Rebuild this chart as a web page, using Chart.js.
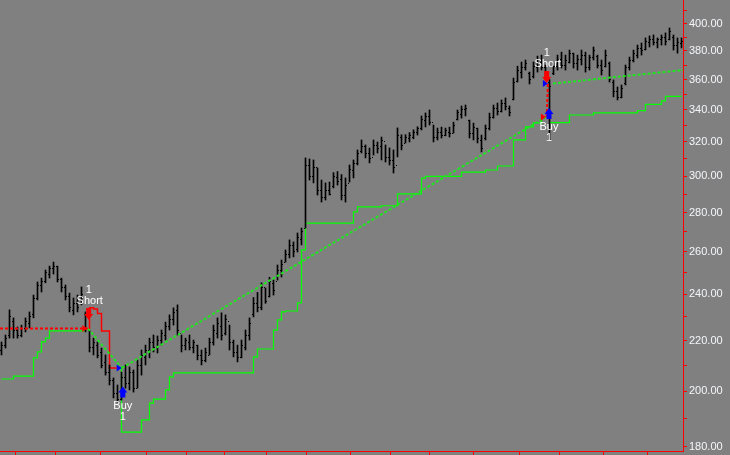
<!DOCTYPE html>
<html>
<head>
<meta charset="utf-8">
<script src="https://cdn.jsdelivr.net/npm/chart.js@4"></script>
<style>
html,body{margin:0;padding:0;background:#808080;overflow:hidden;}
canvas{display:block;}
</style>
</head>
<body>
<canvas id="c" width="730" height="455"></canvas>
<script>
// ---- price bars (one entry per bar index) ----
const highP = [219.4,222.3,233.1,229.6,225.7,226.5,229.6,232.2,239.7,245.7,247.5,251.3,253.2,255.1,253.2,247.5,244.3,240.6,238.4,239.7,
243.4,232.2,224.4,221.0,219.4,216.9,214.1,210.1,205.0,202.3,207.3,210.1,209.3,208.1,212.1,216.1,218.1,221.0,222.3,221.9,
224.4,227.8,230.9,234.0,235.3,222.3,221.0,222.3,220.2,218.1,216.1,216.9,221.0,226.5,229.6,231.8,230.9,226.5,220.2,218.1,
220.2,224.4,229.6,238.6,240.9,245.3,242.9,247.9,246.6,253.7,256.1,261.0,266.0,265.0,269.5,272.0,310.5,309.9,309.3,304.7,
297.8,296.2,296.7,302.0,302.6,300.9,299.0,306.4,309.3,315.2,321.2,318.2,316.4,321.2,320.0,323.0,318.2,316.4,315.2,328.6,
324.4,324.4,325.7,327.4,329.3,336.1,338.0,339.9,330.4,328.5,329.1,328.5,329.1,332.2,339.9,342.5,343.1,333.5,331.6,328.5,
324.2,330.4,337.9,343.1,344.4,346.4,347.7,342.5,361.0,369.2,372.1,373.5,365.1,372.1,376.3,377.0,370.0,360.0,371.4,377.0,
379.1,377.0,380.6,378.4,377.0,380.6,379.1,377.0,382.8,377.0,373.5,380.6,372.1,359.7,355.0,356.3,370.0,375.6,380.6,384.2,
385.7,389.4,390.9,391.6,389.4,391.6,393.1,396.8,391.6,389.4,389.4];
const lowP = [214.1,216.9,221.0,221.0,221.0,221.5,223.6,225.3,229.6,237.5,241.1,245.3,247.5,249.4,245.7,241.1,237.5,232.2,230.9,232.2,
235.3,223.6,215.3,214.1,212.9,208.9,206.1,202.3,197.4,195.9,196.6,201.1,200.4,199.6,201.1,206.1,210.1,212.9,215.3,214.9,
218.1,220.2,224.4,226.5,222.3,215.3,216.1,216.1,214.9,212.1,210.1,211.3,214.1,218.1,221.0,220.2,222.3,216.1,213.3,211.3,
212.9,216.1,220.2,230.0,232.2,233.1,236.0,238.8,239.7,246.6,248.0,255.1,257.1,257.6,260.0,263.5,272.0,297.8,296.2,289.5,
285.7,286.8,289.5,293.4,295.0,286.8,285.7,296.7,299.0,306.4,313.4,310.5,307.6,312.2,313.4,309.3,308.1,306.4,301.8,311.1,
315.2,319.4,320.0,321.9,324.2,327.3,329.2,330.4,320.0,321.2,322.4,323.7,323.0,325.4,333.5,334.7,336.1,322.4,321.2,319.4,
314.0,321.2,327.3,334.7,336.7,338.6,339.9,336.1,346.4,358.3,361.0,366.5,357.0,361.0,365.1,366.5,359.7,321.2,363.3,366.5,
367.9,366.5,371.4,367.9,366.5,370.0,365.1,366.5,373.5,367.9,363.1,368.6,358.3,348.4,346.4,347.7,356.3,366.5,372.1,374.9,
377.0,380.6,382.8,384.2,382.1,384.2,384.2,387.9,380.6,378.4,382.1];
const openP = [216,218,222,228,224,222,225,227,231,238,244,246,249,252,253,247,243,239,233,236,
236,231,224,217,218,215,211,207,204,199,197,205,203,207,201,210,213,216,219,217,
220,222,226,229,233,223,218,219,217,218,214,212,214,219,223,226,223,228,219,215,
213,217,222,231,236,234,243,239,245,246,251,255,259,263,261,266,272,306,300,305,
292,288,292,294,299,298,289,296,303,307,314,317,313,311,318,317,320,311,309,306,
323,319,322,323,326,328,333,336,332,323,326,324,326,325,334,337,340,333,325,328,
321,322,328,335,341,339,344,341,347,359,365,368,364,362,368,372,368,358,364,369,
374,370,372,378,371,374,377,368,375,376,370,369,371,358,352,348,357,368,373,377,
382,381,386,388,386,388,390,388,390,384,385];
const closeP = [218,221,230,224,222,225,228,230,238,244,246,250,252,253,247,243,239,234,236,234,
240,225,217,219,214,210,207,204,199,197,205,203,207,201,210,214,216,219,217,220,
223,226,229,232,224,218,220,217,219,214,212,215,219,224,227,222,229,219,215,213,
218,222,227,236,234,243,237,246,242,251,254,259,263,260,267,270,306,300,305,292,
288,292,290,300,297,289,295,304,307,313,317,313,310,318,316,321,311,309,305,324,
318,323,324,326,328,334,336,332,323,326,324,327,325,330,338,340,341,325,329,322,
316,328,335,341,339,344,342,338,358,366,368,371,360,369,372,368,362,355,369,374,
370,373,378,371,374,377,368,375,380,370,366,377,360,352,348,354,368,373,378,382,
380,387,388,386,388,390,387,394,384,386,387];

// ---- trailing stops ----
const longStop = [204.6,204.6,204.6,205.7,205.7,205.7,205.7,205.7,212.9,215.3,219.4,221.0,
224.0,224.0,224.0,224.0,224.0,224.0,224.0,224.0,224.0,224.0,
null,null,null,null,null,null,null,
208.9,185.1,185.1,185.1,185.1,185.1,189.4,189.4,195.5,197.0,197.0,197.0,200.4,205.4,
207.0,207.0,207.0,207.0,207.0,207.0,207.0,207.0,207.0,207.0,207.0,207.0,207.0,207.0,207.0,207.0,207.0,207.0,207.0,207.0,
213.3,216.5,216.5,216.5,216.5,224.4,228.7,232.2,232.6,232.6,232.6,236.2,261.0,
274.6,274.6,274.6,274.6,274.6,274.6,274.6,274.6,274.6,274.6,274.6,274.6,
280.4,283.1,283.1,283.1,283.1,283.1,283.1,283.7,283.7,283.7,283.7,
290.1,290.1,290.1,290.1,290.1,290.1,298.9,
299.9,299.9,299.9,299.9,299.9,299.9,299.9,299.9,299.9,
302.3,302.3,302.3,302.3,302.3,302.3,303.5,303.5,303.5,305.8,305.8,305.8,305.8,
321.2,321.2,321.2,329.2,329.2,331.7,331.7,334.8,null,
331.9,331.9,331.9,331.9,331.9,336.7,336.7,336.7,336.7,336.7,336.7,
338.0,338.0,338.0,338.0,338.0,338.0,338.0,338.0,338.0,338.0,338.0,
339.5,339.5,343.5,343.5,343.5,343.5,345.8,348.8,348.8,348.8,348.8,348.8];
const shortStopIdx = [21,22,23,24,25,26,27,28,29];
const shortStop = [225.0,234.0,233.5,231.5,224.0,224.0,208.9,208.9,208.9];

// ---- trades ----
const tradeSide = ['long','short','long','short','long'];
const tradeStartIdx = [-0.375,21.6,30.1,136.3,137.9];
const tradeEndIdx = [21.45,30.05,136.1,136.6,170.375];
const tradeEntry = [225.0,225.0,208.9,335.4,357.3];
const tradeExit = [225.0,208.9,335.4,357.3,366.5];

// ---- signals ----
const shortSigIdx = [21.8,136.3];
const shortSigPrice = [228.7,357.7];
const buySigIdx = [30.33,136.875];
const buySigPrice = [201.7,341.2];
const sellExitIdx = [21.45,136.1];
const sellExitPrice = [225.0,335.4];
const coverExitIdx = [30.05,136.6];
const coverExitPrice = [208.9,357.3];
const signalCount = ['1','1'];

// ---- axes ----
const xTickIdx = [3.48,13.53,24.63,36.2,46.23,55.83,66.23,76.25,87.25,97.3,106.88,117.98,129.43,139.45,150.55,161.55];
const yTickValues = [180,190,200,210,220,230,240,250,260,270,280,290,300,310,320,330,340,350,360,370,380,390,400,410];
const yTickLabels = ['180.00','','200.00','','220.00','','240.00','','260.00','','280.00','','300.00','','320.00','','340.00','','360.00','','380.00','','400.00',''];

// ---- build datasets ----
const barData = highP.map((h,i)=>({x:i, y:[lowP[i], h]}));
const longStopData = longStop.map((v,i)=>({x:i, y:v}));
const shortStopData = shortStopIdx.map((ix,k)=>({x:ix, y:shortStop[k]}));

const datasets = [
  {type:'bar', data:barData, backgroundColor:'#000000', borderWidth:0, barThickness:1, order:2},
  {type:'line', data:longStopData, borderColor:'#00ff00', borderWidth:1.2, pointRadius:0, stepped:true, spanGaps:false, order:3},
  {type:'line', data:shortStopData, borderColor:'#ff0000', borderWidth:1.5, pointRadius:0, stepped:true, order:3}
];
tradeSide.forEach((side,k)=>{
  const profit = side==='long' ? tradeExit[k] > tradeEntry[k] : tradeExit[k] < tradeEntry[k];
  datasets.push({type:'line',
    data:[{x:tradeStartIdx[k], y:tradeEntry[k]},{x:tradeEndIdx[k], y:tradeExit[k]}],
    borderColor: profit ? '#1ee61e' : '#ff0000', borderWidth:2, borderDash:[3,2],
    pointRadius:0, order:1});
});

const ohlcTicks = {
  id:'ohlcTicks',
  afterDatasetDraw(chart, args){
    if (args.index !== 0) return;
    const {ctx, chartArea:a} = chart;
    const x = chart.scales.x, y = chart.scales.y;
    ctx.save();
    ctx.beginPath(); ctx.rect(a.left, a.top, a.width, a.height); ctx.clip();
    ctx.fillStyle = '#000000';
    for (let i=0;i<openP.length;i++){
      const px = Math.round(x.getPixelForValue(i) - 0.5);
      const po = Math.round(y.getPixelForValue(openP[i]) - 0.5);
      const pc = Math.round(y.getPixelForValue(closeP[i]) - 0.5);
      ctx.fillRect(px-1, po, 1, 1);
      ctx.fillRect(px+1, pc, 1, 1);
    }
    ctx.restore();
  }
};

const markers = {
  id:'markers',
  afterDatasetsDraw(chart){
    const {ctx} = chart;
    const x = chart.scales.x, y = chart.scales.y;
    ctx.save();
    ctx.font = '11px "Liberation Sans", Arial, sans-serif';
    ctx.textAlign = 'center';
    ctx.textBaseline = 'middle';
    const tri = (px,py,color)=>{
      ctx.fillStyle = color; ctx.beginPath();
      ctx.moveTo(px,py); ctx.lineTo(px-5,py-3.5); ctx.lineTo(px-5,py+3.5); ctx.closePath(); ctx.fill();
    };
    sellExitIdx.forEach((ix,k)=>tri(x.getPixelForValue(ix), y.getPixelForValue(sellExitPrice[k]), '#ff0000'));
    coverExitIdx.forEach((ix,k)=>tri(x.getPixelForValue(ix), y.getPixelForValue(coverExitPrice[k]), '#0000ff'));
    shortSigIdx.forEach((ix,k)=>{
      const px = x.getPixelForValue(ix), pt = y.getPixelForValue(shortSigPrice[k]);
      ctx.fillStyle = '#ff0000'; ctx.beginPath();
      ctx.moveTo(px-2.5,pt-12); ctx.lineTo(px+2.5,pt-12); ctx.lineTo(px+2.5,pt-6); ctx.lineTo(px+4.5,pt-6);
      ctx.lineTo(px,pt); ctx.lineTo(px-4.5,pt-6); ctx.lineTo(px-2.5,pt-6); ctx.closePath(); ctx.fill();
      ctx.fillStyle = '#ffffff';
      ctx.fillText('Short', px+1, pt-19);
      ctx.fillText(signalCount[k], px, pt-30);
    });
    buySigIdx.forEach((ix,k)=>{
      const px = x.getPixelForValue(ix), pt = y.getPixelForValue(buySigPrice[k]);
      ctx.fillStyle = '#0000ff'; ctx.beginPath();
      ctx.moveTo(px,pt); ctx.lineTo(px+4.5,pt+6); ctx.lineTo(px+2.5,pt+6); ctx.lineTo(px+2.5,pt+11);
      ctx.lineTo(px-2.5,pt+11); ctx.lineTo(px-2.5,pt+6); ctx.lineTo(px-4.5,pt+6); ctx.closePath(); ctx.fill();
      ctx.fillStyle = '#ffffff';
      ctx.fillText('Buy', px, pt+19);
      ctx.fillText(signalCount[k], px, pt+30);
    });
    ctx.restore();
  }
};

new Chart(document.getElementById('c'), {
  type:'bar',
  data:{datasets},
  options:{
    responsive:false, animation:false,
    layout:{padding:0},
    plugins:{legend:{display:false}, tooltip:{enabled:false}},
    scales:{
      x:{type:'linear', min:-0.375, max:170.375, offset:false,
        afterBuildTicks:s=>{ s.ticks = xTickIdx.map(v=>({value:v})); },
        afterFit:s=>{ s.height = 4; s.paddingLeft = 0; s.paddingRight = 0; },
        ticks:{display:false},
        grid:{drawOnChartArea:false, offset:false, color:'#ff0000', tickLength:4},
        border:{color:'#ff0000', width:1}},
      y:{type:'logarithmic', position:'right', min:178.6, max:418.3,
        afterBuildTicks:s=>{ s.ticks = yTickValues.map(v=>({value:v})); },
        afterFit:s=>{ s.width = 47; s.paddingTop = 0; s.paddingBottom = 0; },
        ticks:{autoSkip:false, padding:2, color:'#f4f6fa',
          font:{family:'"Liberation Sans", Arial, sans-serif', size:11},
          callback:(v,i)=>yTickLabels[i]},
        grid:{drawOnChartArea:false, color:'#ff0000', tickLength:4},
        border:{color:'#ff0000', width:1}}
    }
  },
  plugins:[ohlcTicks, markers]
});
</script>
</body>
</html>
